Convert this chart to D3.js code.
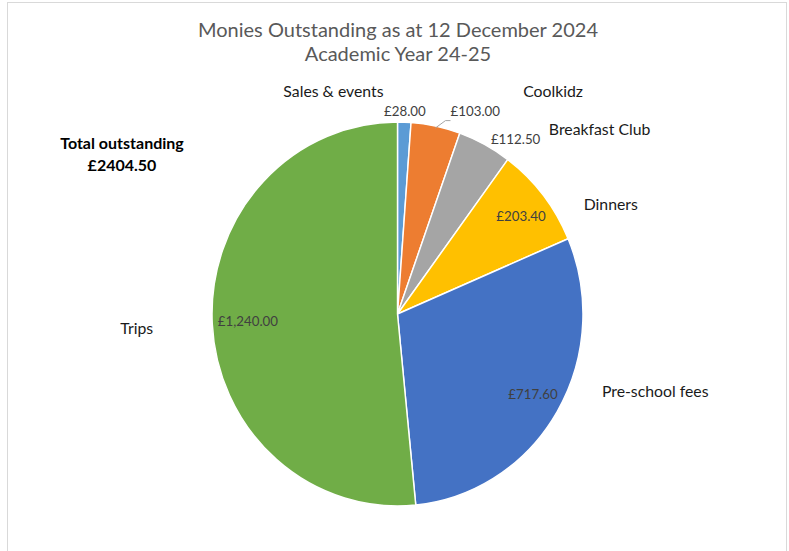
<!DOCTYPE html>
<html>
<head>
<meta charset="utf-8">
<script src="https://cdn.jsdelivr.net/npm/d3@7"></script>
<style>
  body { margin: 0; background: #fff; }
  svg { display: block; font-family: Lato, "Open Sans", sans-serif; }
</style>
</head>
<body>
<svg id="chart" width="789" height="551"></svg>
<script>
// data
var categories = ["Sales & events", "Coolkidz", "Breakfast Club", "Dinners", "Pre-school fees", "Trips"];
var amounts = [28.00, 103.00, 112.50, 203.40, 717.60, 1240.00];
var colours = ["#5B9BD5", "#ED7D31", "#A5A5A5", "#FFC000", "#4472C4", "#70AD47"];
var titleLines = ["Monies Outstanding as at 12 December 2024", "Academic Year 24-25"];
var totalLines = ["Total outstanding", "£2404.50"];

// where the labels sit (Excel placed them by hand): angle in degrees from 12 o'clock, radius as a share of R
var nameAt = [[-16, 1.21], [34.8, 1.42], [47.4, 1.43], [62.7, 1.25], [106.5, 1.40], [267, 1.36]];
var valueAt = [[null, 1.06], [21, 1.13], [34, 1.10], [null, 0.82], [null, 0.82], [null, 0.78]];

var svg = d3.select("#chart");
var cx = 397.5, cy = 314, R = 192, sx = 0.966;

// chart frame
svg.append("rect")
  .attr("x", 7.5).attr("y", 2.5)
  .attr("width", 779).attr("height", 560)
  .attr("fill", "none")
  .attr("stroke", "#d9d9d9");

// title
svg.selectAll("text.title")
  .data(titleLines)
  .enter().append("text")
  .attr("class", "title")
  .attr("x", 398)
  .attr("y", function(d, i) { return 37 + i * 24; })
  .attr("text-anchor", "middle")
  .attr("font-size", 20)
  .attr("fill", "#595959")
  .text(function(d) { return d; });

var pie = d3.pie().sort(null).value(function(d) { return d; });
var arcs = pie(amounts);
var arc = d3.arc().innerRadius(0).outerRadius(R);

var g = svg.append("g")
  .attr("transform", "translate(" + cx + "," + cy + ") scale(" + sx + ",1)");

g.selectAll("path")
  .data(arcs)
  .enter().append("path")
  .attr("d", arc)
  .attr("fill", function(d, i) { return colours[i]; })
  .attr("stroke", "#fff")
  .attr("stroke-width", 1.5)
  .attr("stroke-linejoin", "round");

function polar(deg, r, k) {
  var a = deg * Math.PI / 180;
  return [cx + (k || 1) * r * Math.sin(a), cy - r * Math.cos(a)];
}
function midDeg(d) { return (d.startAngle + d.endAngle) / 2 * 180 / Math.PI; }

var money = d3.format(",.2f");

// value labels
arcs.forEach(function(d, i) {
  var deg = valueAt[i][0] == null ? midDeg(d) : valueAt[i][0];
  var p = polar(deg, R * valueAt[i][1]);
  svg.append("text")
    .attr("x", p[0]).attr("y", p[1])
    .attr("text-anchor", "middle")
    .attr("dominant-baseline", "central")
    .attr("font-size", 13.3)
    .attr("fill", "#404040")
    .text("£" + money(amounts[i]));
});

// leader line for the Coolkidz value
(function() {
  var d = arcs[1];
  var a = polar(midDeg(d), R * 0.99, sx);
  var b = polar(midDeg(d) + 2.5, R * 1.04, sx);
  var c = [b[0] + 5, b[1]];
  svg.append("path")
    .attr("d", d3.line()([a, b, c]))
    .attr("fill", "none")
    .attr("stroke", "#a6a6a6")
    .attr("stroke-width", 1);
})();

// category labels
categories.forEach(function(name, i) {
  var p = polar(nameAt[i][0], R * nameAt[i][1]);
  svg.append("text")
    .attr("x", p[0]).attr("y", p[1])
    .attr("text-anchor", "middle")
    .attr("dominant-baseline", "central")
    .attr("font-size", 15.8)
    .attr("fill", "#1a1a1a")
    .text(name);
});

// total
svg.selectAll("text.total")
  .data(totalLines)
  .enter().append("text")
  .attr("class", "total")
  .attr("x", 122)
  .attr("y", function(d, i) { return 149 + i * 22; })
  .attr("text-anchor", "middle")
  .attr("font-size", 16)
  .attr("font-weight", "bold")
  .attr("fill", "#000")
  .text(function(d) { return d; });
</script>
</body>
</html>
